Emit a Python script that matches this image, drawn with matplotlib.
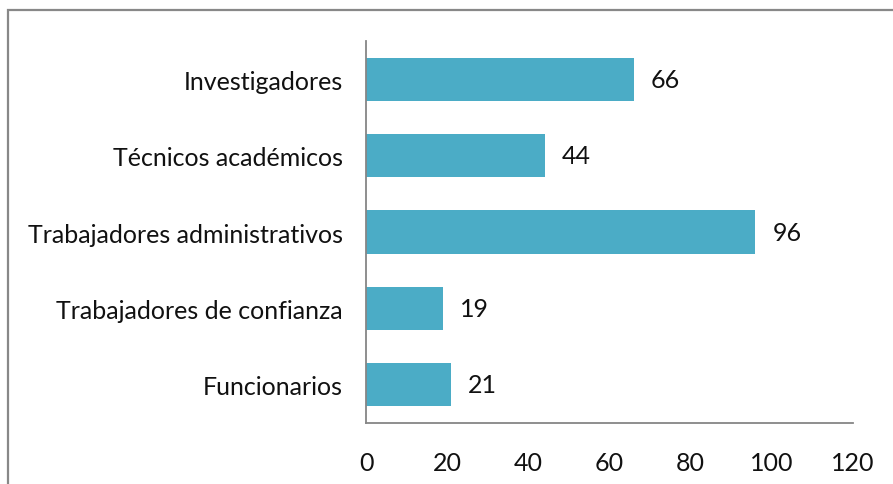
import matplotlib.pyplot as plt
from matplotlib.patches import Rectangle

categories = ["Funcionarios", "Trabajadores de confianza", "Trabajadores administrativos",
              "Técnicos académicos", "Investigadores"]
values = [21, 19, 96, 44, 66]
xticks = [0, 20, 40, 60, 80, 100, 120]

plt.rcParams['font.family'] = ['Lato', 'DejaVu Sans']

fig = plt.figure(figsize=(8.93, 4.85), dpi=100)
ax = fig.add_axes([0.41, 0.126, 0.545, 0.787])

# outer chart frame
fig.patches.append(Rectangle((8 / 893, -0.1), 1.0, 1.1 - 11 / 485,
                             transform=fig.transFigure, fill=False,
                             edgecolor='#888888', linewidth=1.6))

bars = ax.barh(range(len(categories)), values, height=0.57, color='#4BACC6')
for b, v in zip(bars, values):
    ax.text(b.get_width() + 4.2, b.get_y() + b.get_height() / 2, str(v),
            va='center', ha='left', fontsize=18, color='#111111')

ax.set_xlim(0, 120)
ax.set_ylim(-0.5, 4.5)
ax.set_xticks(xticks)
ax.set_yticks(range(len(categories)))
ax.set_yticklabels(categories)
ax.tick_params(axis='both', length=0, labelsize=18, colors='#111111')
ax.tick_params(axis='x', pad=20)
ax.tick_params(axis='y', pad=17)

for s in ['top', 'right']:
    ax.spines[s].set_visible(False)
for s in ['left', 'bottom']:
    ax.spines[s].set_color('#868686')
    ax.spines[s].set_linewidth(1.3)

fig.savefig('out.png', dpi=100)
